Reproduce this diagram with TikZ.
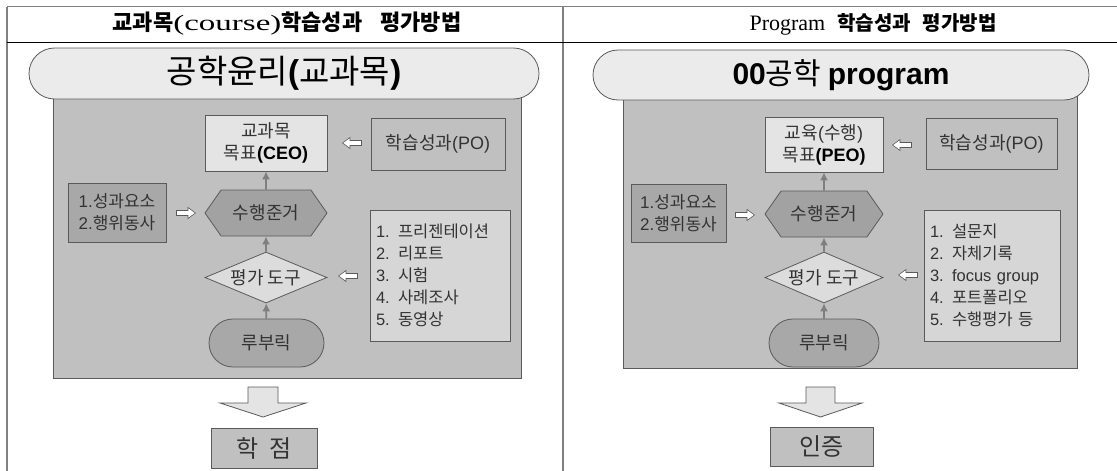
\documentclass[tikz,border=0pt]{standalone}
\usepackage{fontspec}
\usetikzlibrary{shapes.geometric,shapes.symbols,arrows.meta}
\newfontfamily\kr{Noto Sans CJK KR}
\newfontfamily\lat{Liberation Sans}
\newfontfamily\serw[FakeStretch=1.5]{Liberation Serif}
\newfontfamily\serr{Liberation Serif}
\newcommand\mylat[1]{{\lat #1}}
\definecolor{pillfill}{HTML}{EBEBEB}
\definecolor{panel}{HTML}{C0C0C0}
\definecolor{lightbox}{HTML}{E4E4E4}
\definecolor{listfill}{HTML}{D6D6D6}
\definecolor{darkbox}{HTML}{A8A8A8}
\definecolor{hexfill}{HTML}{A2A2A2}
\definecolor{diafill}{HTML}{DCDCDC}
\definecolor{edge}{HTML}{5A5A5A}
\definecolor{txt}{HTML}{333333}
\definecolor{conncol}{HTML}{7F7F7F}
\definecolor{rule}{HTML}{808080}
\tikzset{
  base/.style={draw=edge, line width=0.8pt, inner sep=0pt, align=center, text=txt,
    font=\kr\fontsize{18}{22}\selectfont},
  panelbox/.style={base, fill=panel},
  pill/.style={base, fill=pillfill, text=black, font=\kr\fontsize{33}{36}\selectfont},
  goalbox/.style={base, fill=lightbox},
  pobox/.style={base, fill=panel},
  elembox/.style={base, fill=darkbox, font=\kr\fontsize{17}{22}\selectfont},
  hexbox/.style={base, fill=hexfill, shape=signal, signal to=east and west, signal pointer angle=110},
  listbox/.style={base, fill=listfill, align=left, inner xsep=6pt, font=\kr\fontsize{16.5}{22}\selectfont},
  diabox/.style={base, fill=diafill, shape=diamond, aspect=2.4},
  rubbox/.style={base, fill=darkbox},
  resbox/.style={base, fill=panel, font=\kr\fontsize{24}{28}\selectfont},
  conn/.style={draw=conncol, line width=1.8pt, -{Latex[length=8pt,width=8pt]}},
  hollow/.style={draw=edge, line width=0.6pt, fill=white},
  bigarr/.style={draw=edge, line width=0.8pt, fill=lightbox},
  headtxt/.style={inner sep=0pt, text=black},
  pics/larrow/.style={code={\draw[hollow] (-9.5,0) -- (-2,-5.5) -- (-2,-2.5) -- (9.5,-2.5) -- (9.5,2.5) -- (-2,2.5) -- (-2,5.5) -- cycle;}},
  pics/rarrow/.style={code={\draw[hollow] (9.5,0) -- (2,-5.5) -- (2,-2.5) -- (-9.5,-2.5) -- (-9.5,2.5) -- (2,2.5) -- (2,5.5) -- cycle;}}
}
\begin{document}
\begin{tikzpicture}[x=1pt,y=-1pt]
\useasboundingbox[fill=white] (0,0) rectangle (1117,471);
% table rules
\draw[rule, line width=1.4pt] (7,6.5) -- (1117,6.5);
\draw[rule, line width=2pt] (7,6.5) -- (7,471);
\draw[rule, line width=2pt] (563,6.5) -- (563,471);
\draw[black, line width=1pt] (7,42) -- (1117,42);
% headers
\node[headtxt] (Lhead) at (287,24) {\kr\bfseries\fontsize{22}{26}\selectfont 교과목{\serw\mdseries\fontsize{22}{26}\selectfont (course)}학습성과\hspace{18pt}평가방법};
\node[headtxt] (Rhead) at (873,24) {{\serr\fontsize{22}{26}\selectfont Program}\hspace{12pt}\kr\bfseries\fontsize{20}{26}\selectfont 학습성과\hspace{12pt}평가방법};

% ---------------- left panel ----------------
\node[panelbox, minimum width=468, minimum height=283] (Lpanel) at (287,236.5) {};
\node[pill, minimum width=510, minimum height=51, rounded corners=25.5pt] (Ltitle) at (284,73.5)
  {공학윤리{\lat\bfseries(}교과목{\lat\bfseries)}};
\node[goalbox, minimum width=122, minimum height=56] (Lceo) at (266,143)
  {교과목\\목표{\lat\bfseries\color{black}(CEO)}};
\node[pobox, minimum width=134, minimum height=52] (Lpo) at (438,144) {학습성과\mylat{(PO)}};
\node[elembox, minimum width=98, minimum height=59] (Lelem) at (117,212.5) {\mylat{1.}성과요소\\\mylat{2.}행위동사};
\node[hexbox, minimum width=122, minimum height=46] (Lhex) at (266,213) {수행준거};
\node[listbox, minimum width=140, minimum height=131, text width=128] (Llist) at (440,275.5)
  {\mylat{1. }프리젠테이션\\\mylat{2. }리포트\\\mylat{3. }시험\\\mylat{4. }사례조사\\\mylat{5. }동영상};
\node[diabox, minimum width=122, minimum height=51] (Ldia) at (266,277.5) {평가 도구};
\node[rubbox, minimum width=115, minimum height=48, rounded corners=24pt] (Lrub) at (266.5,343) {루부릭};
\node[resbox, minimum width=106, minimum height=40] (Lres) at (264,448) {학~~점};
\draw[conn] (Lhex) -- (Lceo);
\draw[conn] (Ldia) -- (Lhex);
\draw[conn] (Lrub) -- (Ldia);
\pic at (352,143) {larrow};
\pic at (186,213) {rarrow};
\pic at (348,276) {larrow};
\draw[bigarr] (248,387) -- (278,387) -- (278,403) -- (306,403) -- (263,417) -- (220,403) -- (248,403) -- cycle;

% ---------------- right panel ----------------
\node[panelbox, minimum width=454, minimum height=273] (Rpanel) at (850,231.5) {};
\node[pill, minimum width=496, minimum height=50, rounded corners=25pt, font=\kr\fontsize{30}{34}\selectfont] (Rtitle) at (841,75)
  {{\lat\bfseries 00}공학 {\lat\bfseries program}};
\node[goalbox, minimum width=118, minimum height=55] (Rpeo) at (824,144.5)
  {교육{\lat(}수행{\lat)}\\목표{\lat\bfseries\color{black}(PEO)}};
\node[pobox, minimum width=131, minimum height=51] (Rpo) at (991.5,143.5) {학습성과\mylat{(PO)}};
\node[elembox, minimum width=95, minimum height=58] (Relem) at (678.5,213) {\mylat{1.}성과요소\\\mylat{2.}행위동사};
\node[hexbox, minimum width=118, minimum height=46] (Rhex) at (824,214) {수행준거};
\node[listbox, minimum width=136, minimum height=131, text width=124] (Rlist) at (992,275.5)
  {\mylat{1. }설문지\\\mylat{2. }자체기록\\\mylat{3. focus group}\\\mylat{4. }포트폴리오\\\mylat{5. }수행평가 등};
\node[diabox, minimum width=118, minimum height=51] (Rdia) at (824,277.5) {평가 도구};
\node[rubbox, minimum width=110, minimum height=48, rounded corners=24pt] (Rrub) at (824,343) {루부릭};
\node[resbox, minimum width=103, minimum height=39] (Rres) at (821.5,446.5) {인증};
\draw[conn] (Rhex) -- (Rpeo);
\draw[conn] (Rdia) -- (Rhex);
\draw[conn] (Rrub) -- (Rdia);
\pic at (902,145) {larrow};
\pic at (745,215) {rarrow};
\pic at (908,275) {larrow};
\draw[bigarr] (806,387) -- (835,387) -- (835,403) -- (862,403) -- (820.5,417) -- (779,403) -- (806,403) -- cycle;
\end{tikzpicture}
\end{document}
